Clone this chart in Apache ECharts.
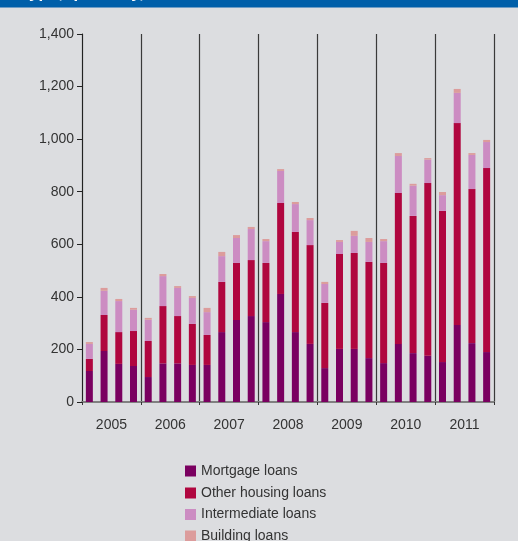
<!DOCTYPE html>
<html>
<head>
<meta charset="utf-8">
<script src="https://cdn.jsdelivr.net/npm/echarts@6/dist/echarts.min.js"></script>
<style>
html,body{margin:0;padding:0;background:#dcdde0;}
#chart{width:518px;height:541px;}
</style>
</head>
<body>
<div id="chart"></div>
<script>
var years = ['2005','2006','2007','2008','2009','2010','2011'];
var quarters = [];
years.forEach(function(y){ for (var q=1;q<=4;q++) quarters.push(y+' Q'+q); });
var seriesNames = ['Mortgage loans','Other housing loans','Intermediate loans','Building loans'];
var mortgage = [118,194,145,137, 95,147,147,141, 141,266,312,327, 304,411,266,221, 129,202,202,167, 148,221,186,176, 152,293,224,190];
var otherHousing = [46,137,121,133, 137,218,180,156, 114,191,217,213, 225,346,381,376, 248,361,365,366, 381,574,522,657, 575,768,586,700];
var intermediate = [57,92,118,81, 81,114,107,99, 87,98,95,118, 83,122,106,95, 72,46,65,76, 83,141,115,89, 60,115,130,99];
var building = [7,11,8,7, 7,8,7,7, 16,16,11,8, 8,7,8,8, 8,7,19,15, 8,11,7,6, 12,15,7,8];
var colors = ['#7a0060','#b0063f','#cc8cc2','#dc9c9c'];
var yTicks = {min:0, max:1400, interval:200};

var chart = echarts.init(document.getElementById('chart'), null, {renderer:'canvas'});
var font = 'Liberation Sans, Arial, sans-serif';
var dataSets = [mortgage, otherHousing, intermediate, building];
var legendTops = [459, 481, 502.5, 524];
var option = {
  backgroundColor:'#dcdde0',
  animation:false,
  textStyle:{fontFamily:font},
  graphic:[
    {type:'rect', x:0, y:0, shape:{x:0, y:0, width:518, height:7.5}, style:{fill:'#005fa9'}, z:-1},
    {type:'text', x:20, y:2, z:2, style:{text:'Type, quarterly, EUR million', fill:'#ffffff', font:'bold 17px '+font, verticalAlign:'bottom', align:'left'}}
  ],
  grid:{left:82, right:24, top:34, bottom:139},
  legend: seriesNames.map(function(n,i){
    return {orient:'vertical', left:180, top:legendTops[i], height:30,
      itemWidth:11, itemHeight:11, itemGap:0, icon:'rect',
      textStyle:{fontSize:14, color:'#333', fontFamily:font},
      data:[n]};
  }),
  xAxis:[
    {type:'category', data:quarters, boundaryGap:true,
     axisLine:{show:true, lineStyle:{color:'#808080', width:2}},
     axisTick:{show:false}, axisLabel:{show:false}, splitLine:{show:false}},
    {type:'category', data:years, position:'bottom', boundaryGap:true,
     axisLine:{show:false},
     axisTick:{show:true, length:3, lineStyle:{color:'#333'}},
     axisLabel:{fontSize:14, color:'#333', margin:16, fontFamily:font},
     splitLine:{show:true, lineStyle:{color:'#3a3a3a', width:1.2}}}
  ],
  yAxis:{
    type:'value', min:yTicks.min, max:yTicks.max, interval:yTicks.interval,
    axisLine:{show:true, lineStyle:{color:'#222', width:1}},
    axisTick:{show:true, length:5, lineStyle:{color:'#222'}},
    axisLabel:{fontSize:14, color:'#333', margin:8, fontFamily:font,
      formatter:function(v){ return v.toLocaleString('en-US'); }},
    splitLine:{show:false}
  },
  series: seriesNames.map(function(n,i){
    return {name:n, type:'bar', stack:'total', xAxisIndex:0, barWidth:7,
      itemStyle:{color:colors[i]}, data:dataSets[i]};
  })
};
chart.setOption(option);
</script>
</body>
</html>
